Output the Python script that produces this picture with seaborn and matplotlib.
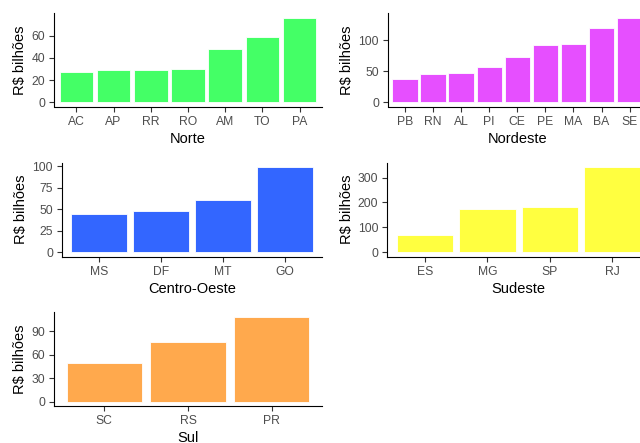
import matplotlib
matplotlib.use("Agg")
import matplotlib.pyplot as plt
import seaborn as sns
import pandas as pd

# PIB por estado, R$ bilhoes, agrupado por regiao
norte_uf = ["AC", "AP", "RR", "RO", "AM", "TO", "PA"]
norte_val = [27, 28.8, 29, 29.7, 48, 58.5, 76]

nordeste_uf = ["PB", "RN", "AL", "PI", "CE", "PE", "MA", "BA", "SE"]
nordeste_val = [37, 45.5, 47, 56, 73, 92, 94, 119, 136]

co_uf = ["MS", "DF", "MT", "GO"]
co_val = [44.6, 48, 60.5, 99.6]

sudeste_uf = ["ES", "MG", "SP", "RJ"]
sudeste_val = [68.6, 172, 180, 343]

sul_uf = ["SC", "RS", "PR"]
sul_val = [48.8, 75.6, 108.3]

norte_ticks = [0, 20, 40, 60]
nordeste_ticks = [0, 50, 100]
co_ticks = [0, 25, 50, 75, 100]
sudeste_ticks = [0, 100, 200, 300]
sul_ticks = [0, 30, 60, 90]

W, H = 640, 443

sns.set_theme(style="ticks")
plt.rcParams["font.family"] = ["Liberation Sans", "DejaVu Sans"]

fig = plt.figure(figsize=(W / 100, H / 100), dpi=100)


def panel(left, right, top, bottom):
    # pixel box -> figure coords
    return fig.add_axes([left / W, 1 - bottom / H, (right - left) / W, (bottom - top) / H])


def draw(ax, ufs, vals, ticks, color, regiao):
    df = pd.DataFrame({"uf": ufs, "valor": vals})
    sns.barplot(data=df, x="uf", y="valor", color=color, saturation=1,
                width=0.9, edgecolor="white", linewidth=0.6, ax=ax)
    n = len(ufs)
    top = max(vals)
    ax.set_xlim(-0.6, n - 1 + 0.6)
    ax.set_ylim(-0.05 * top, 1.05 * top)
    ax.set_yticks(ticks)
    ax.set_xlabel(regiao, fontsize=10.5, color="black", labelpad=3)
    ax.set_ylabel("R$ bilhões", fontsize=10.5, color="black", labelpad=3)
    ax.tick_params(axis="both", labelsize=8.7, labelcolor="#4D4D4D",
                   color="#333333", length=3.5, width=0.8, pad=3)
    for s in ["top", "right"]:
        ax.spines[s].set_visible(False)
    for s in ["left", "bottom"]:
        ax.spines[s].set_color("black")
        ax.spines[s].set_linewidth(0.8)


ax1 = panel(54, 322, 13.5, 106.5)
draw(ax1, norte_uf, norte_val, norte_ticks, "#44FF66", "Norte")

ax2 = panel(388, 646.5, 13.5, 106.5)
draw(ax2, nordeste_uf, nordeste_val, nordeste_ticks, "#E64FFF", "Nordeste")

ax3 = panel(62, 322, 162.5, 256.6)
draw(ax3, co_uf, co_val, co_ticks, "#3366FF", "Centro-Oeste")

ax4 = panel(387.4, 650, 162.5, 256.6)
draw(ax4, sudeste_uf, sudeste_val, sudeste_ticks, "#FFFF40", "Sudeste")

ax5 = panel(54, 322, 312.4, 406)
draw(ax5, sul_uf, sul_val, sul_ticks, "#FFA94D", "Sul")

fig.savefig("out.png", dpi=100)
